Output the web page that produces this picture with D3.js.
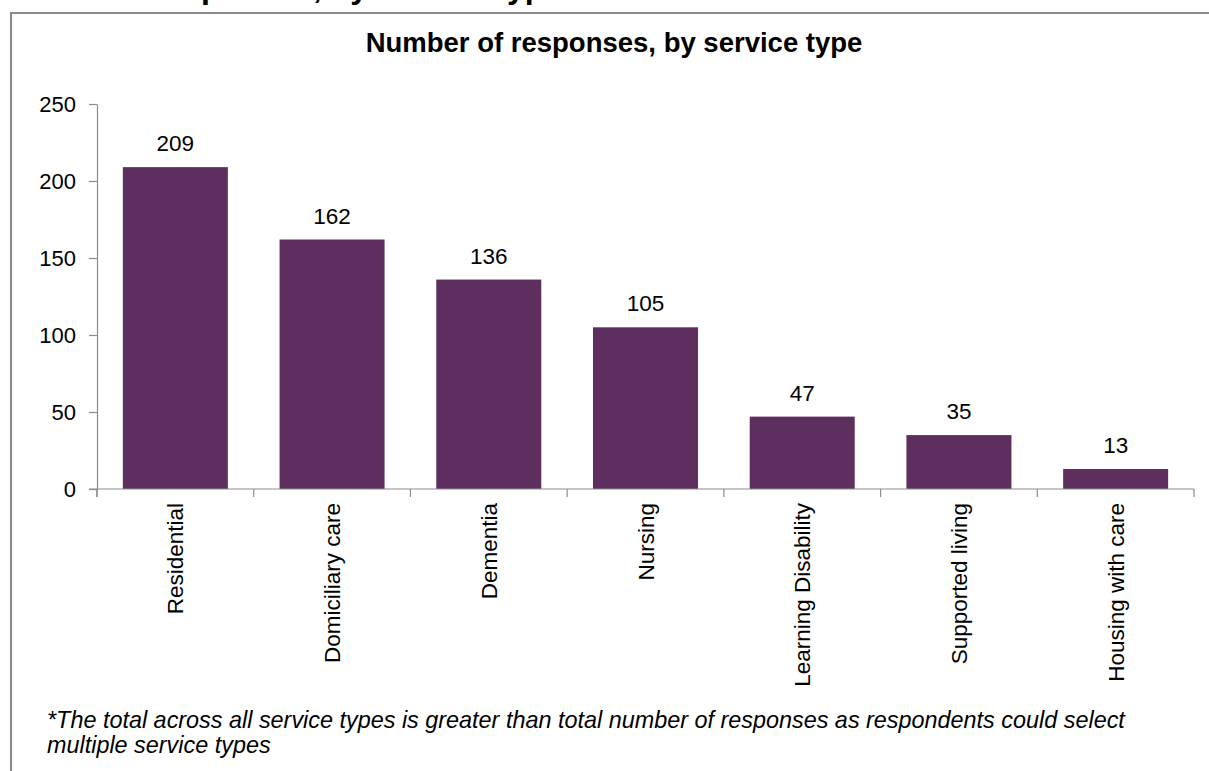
<!DOCTYPE html>
<html>
<head>
<meta charset="utf-8">
<script src="https://cdn.jsdelivr.net/npm/d3@7"></script>
<style>
  html, body { margin: 0; padding: 0; background: #fff; }
  svg { display: block; font-family: Arial, "Liberation Sans", sans-serif; }
</style>
</head>
<body>
<svg id="chart" width="1209" height="771"></svg>
<script>
const categories = ["Residential", "Domiciliary care", "Dementia", "Nursing", "Learning Disability", "Supported living", "Housing with care"];
const values = [209, 162, 136, 105, 47, 35, 13];
const yTicks = [0, 50, 100, 150, 200, 250];
const chartTitle = "Number of responses, by service type";
const clippedTitle = "Number of responses, by service type";
const footnoteLines = [
  "*The total across all service types is greater than total number of responses as respondents could select",
  "multiple service types"
];

const svg = d3.select("#chart");
const W = 1209, H = 771;
const barColor = "#5e2f5e";

// clipped page title above the frame (only descenders visible)
const tmp = svg.append("text").attr("font-size", 32).attr("font-weight", "bold").text("Number of res");
const prefixW = tmp.node().getComputedTextLength();
tmp.remove();
svg.append("text")
  .attr("x", 201 - prefixW).attr("y", -2.5)
  .attr("font-size", 32).attr("font-weight", "bold").attr("fill", "#000")
  .text(clippedTitle);

// frame
svg.append("path")
  .attr("d", `M11,${H} L11,13 L${W},13`)
  .attr("fill", "none").attr("stroke", "#8a8a8a").attr("stroke-width", 2);

// chart title
svg.append("text")
  .attr("x", 614).attr("y", 52)
  .attr("text-anchor", "middle")
  .attr("font-size", 27.5).attr("font-weight", "bold").attr("fill", "#000")
  .text(chartTitle);

// scales
const x = d3.scaleBand().domain(categories).range([97, 1194]).paddingInner(0.33).paddingOuter(0.165);
const y = d3.scaleLinear().domain([0, 250]).range([489, 104]);

// y axis
const yAxis = d3.axisLeft(y).tickValues(yTicks).tickSize(8).tickSizeOuter(0).tickPadding(13);
const gy = svg.append("g").attr("transform", "translate(97,0)").call(yAxis);
gy.select(".domain").attr("stroke", "#8c8c8c").attr("stroke-width", 1.2);
gy.selectAll(".tick line").attr("stroke", "#8c8c8c").attr("stroke-width", 1.2);
gy.selectAll(".tick text").attr("font-size", 22).attr("fill", "#000").attr("font-family", "Arial, 'Liberation Sans', sans-serif");
svg.append("line").attr("x1", 97).attr("x2", 97).attr("y1", 489).attr("y2", 497)
  .attr("stroke", "#8c8c8c").attr("stroke-width", 1.2);

// bars
svg.append("g").selectAll("rect").data(values).join("rect")
  .attr("x", (d, i) => x(categories[i]))
  .attr("width", x.bandwidth())
  .attr("y", d => y(d))
  .attr("height", d => y(0) - y(d))
  .attr("fill", barColor);

// value labels
svg.append("g").selectAll("text").data(values).join("text")
  .attr("x", (d, i) => x(categories[i]) + x.bandwidth() / 2)
  .attr("y", d => y(d) - 16)
  .attr("text-anchor", "middle")
  .attr("font-size", 22.5).attr("fill", "#000")
  .text(d => d);

// x axis line and ticks between categories
svg.append("line").attr("x1", 89).attr("x2", 1194).attr("y1", 489).attr("y2", 489)
  .attr("stroke", "#8c8c8c").attr("stroke-width", 1.2);
const boundaries = d3.range(categories.length + 1).map(i => 97 + i * (1194 - 97) / categories.length);
svg.append("g").selectAll("line").data(boundaries).join("line")
  .attr("x1", d => d).attr("x2", d => d).attr("y1", 489).attr("y2", 497)
  .attr("stroke", "#8c8c8c").attr("stroke-width", 1.2);

// x labels rotated
svg.append("g").selectAll("text").data(categories).join("text")
  .attr("transform", d => `translate(${x(d) + x.bandwidth() / 2 + 8},503) rotate(-90)`)
  .attr("text-anchor", "end")
  .attr("font-size", 22.5).attr("fill", "#000")
  .text(d => d);

// footnote
svg.append("g").selectAll("text").data(footnoteLines).join("text")
  .attr("x", 47).attr("y", (d, i) => 728 + i * 25)
  .attr("font-size", 23.4).attr("font-style", "italic").attr("fill", "#000")
  .text(d => d);
</script>
</body>
</html>
